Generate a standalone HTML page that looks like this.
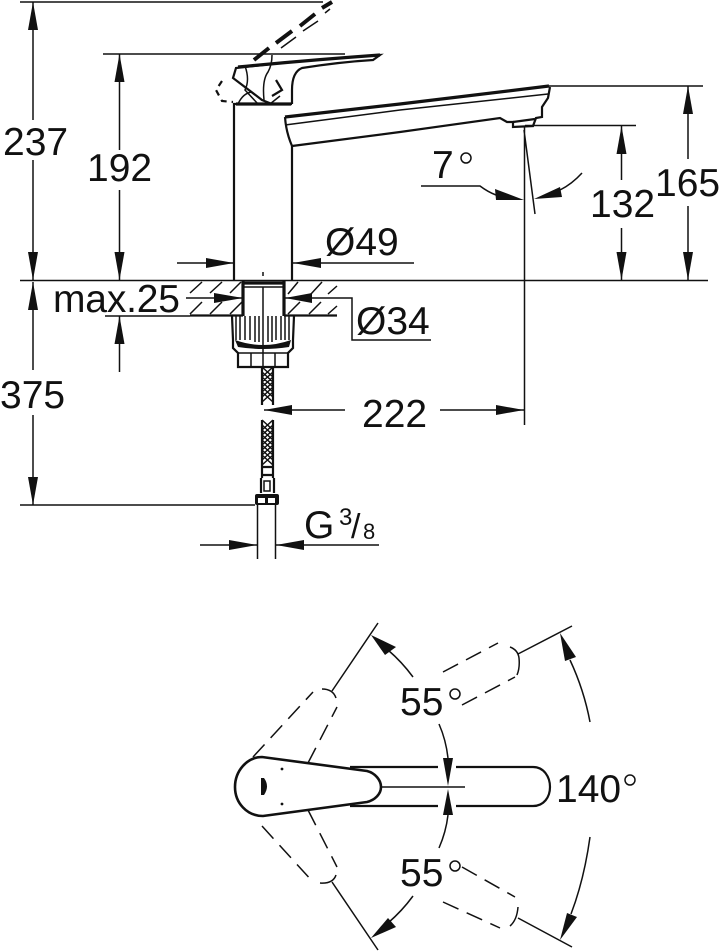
<!DOCTYPE html>
<html><head><meta charset="utf-8"><style>
html,body{margin:0;padding:0;background:#fff}
svg{display:block}
text{font-family:"Liberation Sans",sans-serif;font-size:39px;fill:#111}
.t{stroke:#111;stroke-width:1.5;fill:none}
.m{stroke:#111;stroke-width:2.2;fill:none}
.k{stroke:#111;stroke-width:3.2;fill:none}
.a{fill:#111}
</style></head><body>
<svg width="720" height="952" viewBox="0 0 720 952" xmlns="http://www.w3.org/2000/svg">
<g class="t">
<path d="M20 2H323M103 54H345M20 280.5H708M20 505H255M549 86H703M525 125.5H636"/>
<path d="M33 2V120M33 160V280M33 282V370M33 415V505"/>
<path d="M119.5 54V150M119.5 190V280M119.5 316V372M105 316H190"/>
<path d="M688 86V159M688 206V280M621.5 126V180M621.5 228V280"/>
<path d="M524.5 126V425M524 130L535 214"/>
<path d="M421 186H480Q488 192 496 195M582 173Q572 184 560 190"/>
<path d="M177 263H234M293 263H414M186 298H243M285 298H352V340H431"/>
<path d="M264 410H345M440 410H524M200 545H257M276 545H379"/>
<path d="M257.5 505V559M275.5 505V559"/>
</g>
<g class="a">
<polygon points="33,2 28,30 38,30"/><polygon points="33,280 28,252 38,252"/>
<polygon points="33,282 28,310 38,310"/><polygon points="33,505 28,477 38,477"/>
<polygon points="119.5,54 114.5,82 124.5,82"/><polygon points="119.5,280 114.5,252 124.5,252"/>
<polygon points="119.5,316 114.5,344 124.5,344"/>
<polygon points="688,86 683,114 693,114"/><polygon points="688,280 683,252 693,252"/>
<polygon points="621.5,126 616.5,154 626.5,154"/><polygon points="621.5,280 616.5,252 626.5,252"/>
<polygon points="524,200 495,189 496,200"/><polygon points="534,199 560,187 562,197"/>
<polygon points="234,263 206,258 206,268"/><polygon points="293,263 321,258 321,268"/>
<polygon points="243,298 214,293 214,303"/><polygon points="285,298 312,293 312,303"/>
<polygon points="264,410 292,405 292,415"/><polygon points="524,410 496,405 496,415"/>
<polygon points="257,545 229,540 229,550"/><polygon points="276,545 304,540 304,550"/>
</g>
<!-- faucet body -->
<g>
<path class="m" d="M234 280V104H292M292 146V280M292 104V90Q292 72 302 68Q340 62 373 60L380 55 Q340 58 290 62L236 68L233 78L262 100L272 104"/>
<path class="k" d="M236 104H291M238 67Q310 60 380 55"/>
<path class="t" d="M238 104Q243 93 252 92M245 66Q250 80 245 90L258 104M272 55Q272 65 268 72Q262 80 264 100M270 104L280 96M263 272V276"/>
<path class="m" stroke-dasharray="6 5" d="M222 81L216 90L222 101L233 102"/>
<path class="m" d="M276 80L282 90L272 96"/>
<path d="M254 60L269 48M276 43L292 31M300 26L315 14M322 8L332 2" stroke="#111" stroke-width="4" fill="none"/>
<path class="t" d="M281 48L296 37M303 31L318 21M325 13L330 9"/>
<path class="k" d="M285 117L400 104L549 86"/>
<path class="t" d="M285 125L400 110L548 94"/>
<path class="m" d="M285 117Q286 132 292 146L400 132L500 118L507 122H513V127L533 126L536 118L542 117V107L548 98L550 87"/>
<path class="m" d="M513 122L535 119"/>
</g>
<!-- counter -->
<g>
<path class="m" d="M190 315.5H243M284 315.5H337"/>
<path class="k" d="M243 281V316M284 281V316M243 283H284"/>
<path class="t" d="M243 287H284M263 287V366"/>
<path class="t" d="M190 293L202 282M210 293L222 282M230 293L241 282M288 294L298 282M311 294L322 282M328 294L337 286M190 314L202 302M210 314L222 302M230 314L242 302M288 314L300 302M309 314L321 302M328 314L337 306"/>
<path class="m" d="M232 316L233 340V348L238 353V367H288V353L293 348V340L294 316"/>
<path class="t" d="M236 316V340M240 316V340M245 316V340M250 316V340M255 316V342M259 316V342M268 316V342M272 316V342M276 316V340M281 316V340M285 316V340M289 316V340M251 353V367M275 353V367M238 353H288"/>
<path d="M235 340Q263 350 291 340L289 347Q263 351 238 347Z" fill="#111"/>
<path class="m" d="M262 367V405M273 367V405M262 420V478M273 420V478M261 478V493M274 478V493M262 467H273M262 475H273"/>
<path stroke="#111" stroke-width="1.5" fill="none" d="M262 372L273 382L262 392L273 402M273 372L262 382L273 392L262 402M262 367L273 377L262 387L273 397M273 367L262 377L273 387L262 397M262 425L273 435L262 445L273 455L262 465M273 425L262 435L273 445L262 455L273 465M262 420L273 430L262 440L273 450L262 460M273 420L262 430L273 440L262 450L273 460"/>
<rect class="t" x="264" y="481" width="6" height="10"/>
<rect x="255" y="494" width="24" height="11" rx="2" fill="#111"/>
<rect x="258" y="498" width="7" height="5" fill="#fff"/><rect x="268" y="498" width="7" height="5" fill="#fff"/>
</g>
<!-- text -->
<text x="3" y="155">237</text>
<text x="87" y="181">192</text>
<text x="432" y="178">7</text><circle class="t" cx="466" cy="158" r="5"/>
<text x="590" y="217">132</text>
<text x="655" y="196">165</text>
<text x="325" y="255">Ø49</text>
<text x="53" y="312" textLength="127">max.25</text>
<text x="356" y="334">Ø34</text>
<text x="0" y="408">375</text>
<text x="362" y="427">222</text>
<text x="304" y="538">G</text>
<text x="339" y="525" style="font-size:24px">3</text>
<text x="351" y="538" style="font-size:34px">/</text>
<text x="363" y="539" style="font-size:22px">8</text>
<!-- plan view -->
<g>
<path class="k" style="stroke-width:2.6" d="M262 757C247 757 235 771 235 787C235 803 247 816 263 816L367 802C375 800 381 794 381 787C381 780 375 773 367 771L262 757Z"/>
<path class="m" d="M350 767H438M456 767H533C544 767 550 777 550 787C550 797 544 806 533 806H456M438 806H350"/>
<path class="t" d="M381 787H465"/>
<path d="M261 778H264Q270 786 264 795H261Z" fill="#111"/>
<circle cx="282" cy="769" r="1.4" fill="#111"/><circle cx="282" cy="804" r="1.4" fill="#111"/>
</g>
<g class="a">
<polygon points="448,786 443,758 453,758"/><polygon points="448,789 443,815 453,815"/>
<polygon points="371,635 385,655 396,647"/><polygon points="371,938 388,918 396,927"/>
<polygon points="560,633 565,661 576,657"/><polygon points="560,940 567,913 577,917"/>
</g>
<g class="t">
<path d="M378 623L332 691M572 626L518 654M378 950L332 882M572 947L518 918"/>
<path d="M388 650Q402 662 413 677M388 923Q402 911 413 896M439 724Q446 740 448 758M448 815Q446 832 439 848"/>
<path d="M570 660Q584 690 590 722M590 837Q584 880 571 914"/>
<path d="M322 689Q333 689 336 698M510 647Q518 650 519 658Q520 668 517 675M320 883Q333 884 336 875M518 907Q517 920 510 926"/>
<path d="M308 763L337 707M253 757L313 692M262 826L313 882M308 810L337 867M443 672L498 643M462 705L515 677M462 867L515 897M443 902L500 928" stroke-dasharray="17 9"/>
</g>
<text x="400" y="715">55</text><circle class="t" cx="455" cy="694" r="5"/>
<text x="400" y="886">55</text><circle class="t" cx="455" cy="866" r="5"/>
<text x="556" y="802">140</text><circle class="t" cx="630" cy="780" r="5"/>
</svg>
</body></html>
